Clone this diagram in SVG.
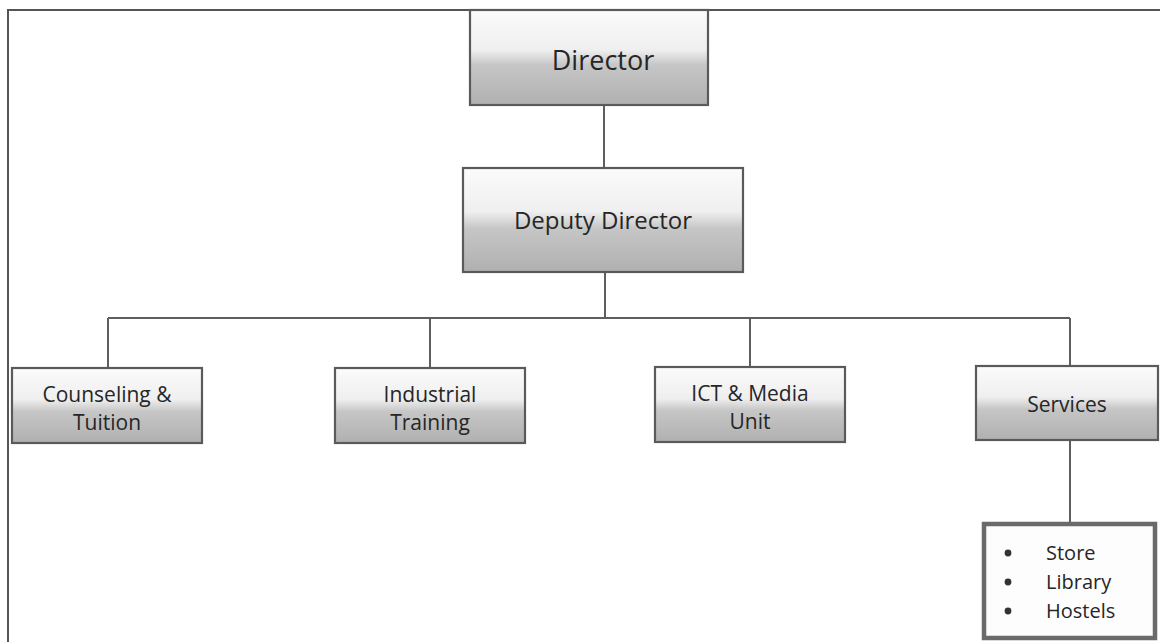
<svg xmlns="http://www.w3.org/2000/svg" width="1160" height="642" viewBox="0 0 1160 642">
  <defs>
    <linearGradient id="boxFill" x1="0" y1="0" x2="0" y2="1">
      <stop offset="0" stop-color="#fbfbfb"/>
      <stop offset="0.42" stop-color="#efefef"/>
      <stop offset="0.58" stop-color="#c6c6c6"/>
      <stop offset="1" stop-color="#b0b0b0"/>
    </linearGradient>
  </defs>
  <style>
    .frame { fill: none; stroke: #555; stroke-width: 2; }
    .box { fill: url(#boxFill); stroke: #5a5a5a; stroke-width: 2.2; }
    .list { fill: #fdfdfd; stroke: #6a6a6a; stroke-width: 4.5; }
    .wire { fill: none; stroke: #5e5e5e; stroke-width: 2; }
    .dot { fill: #333; }
    text { font-family: "Open Sans", "Liberation Sans", sans-serif; fill: #262626; text-anchor: middle; }
    .t1 { font-size: 27px; }
    .t2 { font-size: 24px; }
    .t3 { font-size: 21px; }
    .li { font-size: 20px; text-anchor: start; }
  </style>

  <rect width="1160" height="642" fill="#ffffff"/>
  <!-- outer page frame -->
  <path class="frame" d="M8,642 V10 H1160"/>

  <!-- connectors -->
  <g id="connectors">
    <path class="wire" d="M604,105 V168"/>
    <path class="wire" d="M605,272 V318"/>
    <path class="wire" d="M108,318 H1070"/>
    <path class="wire" d="M108,318 V368"/>
    <path class="wire" d="M430,318 V368"/>
    <path class="wire" d="M750,318 V367"/>
    <path class="wire" d="M1070,318 V366"/>
    <path class="wire" d="M1070,440 V523"/>
  </g>

  <g id="director">
    <rect class="box" x="470" y="10" width="238" height="95"/>
    <text class="t1" x="603" y="70">Director</text>
  </g>

  <g id="deputy-director">
    <rect class="box" x="463" y="168" width="280" height="104"/>
    <text class="t2" x="603" y="229">Deputy Director</text>
  </g>

  <g id="counseling">
    <rect class="box" x="12" y="368" width="190" height="75"/>
    <text class="t3" x="107" y="402">Counseling &amp;</text>
    <text class="t3" x="107" y="430">Tuition</text>
  </g>

  <g id="industrial">
    <rect class="box" x="335" y="368" width="190" height="75"/>
    <text class="t3" x="430" y="402">Industrial</text>
    <text class="t3" x="430" y="430">Training</text>
  </g>

  <g id="ict">
    <rect class="box" x="655" y="367" width="190" height="75"/>
    <text class="t3" x="750" y="401">ICT &amp; Media</text>
    <text class="t3" x="750" y="429">Unit</text>
  </g>

  <g id="services">
    <rect class="box" x="976" y="366" width="182" height="74"/>
    <text class="t3" x="1067" y="412">Services</text>
  </g>

  <g id="services-list">
    <rect class="list" x="984" y="524" width="171" height="114"/>
    <circle class="dot" cx="1008" cy="553" r="3.4"/>
    <circle class="dot" cx="1008" cy="582" r="3.4"/>
    <circle class="dot" cx="1008" cy="611" r="3.4"/>
    <text class="li" x="1046" y="560">Store</text>
    <text class="li" x="1046" y="589">Library</text>
    <text class="li" x="1046" y="618">Hostels</text>
  </g>
</svg>
